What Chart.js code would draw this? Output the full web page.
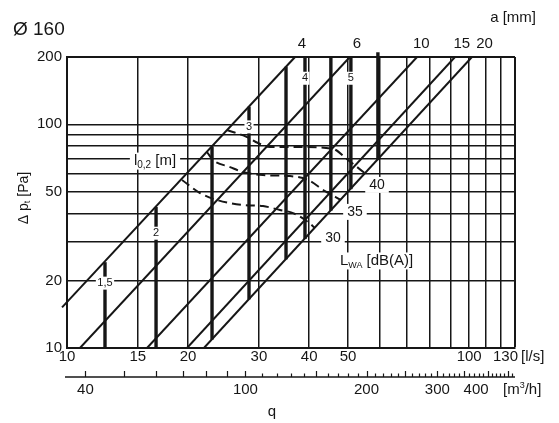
<!DOCTYPE html>
<html><head><meta charset="utf-8">
<script src="https://cdn.jsdelivr.net/npm/chart.js@4.4.1/dist/chart.umd.min.js"></script>
<style>html,body{margin:0;padding:0;background:#fff;overflow:hidden}canvas{display:block}</style>
</head><body>
<div style="width:559px;height:423px"><canvas id="c" width="559" height="423"></canvas></div>
<script>
// ---- axes ----
const xGridLs = [10,15,20,30,40,50,60,70,80,90,100,110,120,130];
const xLabelLs = [10,15,20,30,40,50,100];
const yGridPa = [10,20,30,40,50,60,70,80,90,100,200];
const yLabelPa = [10,20,50,100,200];
const m3hTicks = [40,50,60,70,80,90,100,110,120,130,140,150,160,170,180,190,200,210,220,230,240,250,260,270,280,290,300,310,320,330,340,350,360,370,380,390,400,410,420,430,440,450,460];
const m3hLabels = [40,100,200,300,400];

// ---- slot opening lines a [mm]: end points (q l/s, dp Pa) ----
const slotNames = ['4','6','10','15','20'];
const slotQ = [[9.72,36.9],[10.77,50.5],[15.81,74.2],[19.88,92.2],[21.9,101.6]];
const slotP = [[15.2,200],[10,200],[10,200],[10,200],[10,200]];

// ---- throw l0,2 [m] vertical lines ----
const throwNames = ['1,5','2','','3','','4','','5',''];
const throwQ = [12.43,16.65,22.94,28.35,35.04,39.06,45.3,50.8,59.3];
const throwPlow = [10,10,10.9,16.5,24.9,30.7,41.1,51.3,69.2];
const throwPhigh = [24.2,42.7,79.5,119.9,180.9,200,200,200,210];

// ---- sound power LWA [dB(A)] curves ----
const soundNames = ['40','35','30'];
const sound40Q = [24.99,28.03,29.85,31.96,37.96,45.85,49.96,55.4];
const sound40P = [94.3,87.7,82.5,79.2,79.2,77.6,69.3,59.9];
const sound35Q = [22.29,23.07,25.43,27.39,30.72,35.85,39.73,43.8,48.0];
const sound35P = [75.2,69.3,64.4,61.2,59.3,58.7,56.4,50.3,45.9];
const sound30Q = [19.32,21.41,23.6,27.39,30.72,33.85,36.48,39.73,41.36];
const sound30P = [56.4,49.3,45.9,43.6,43.1,41.4,40.1,36.6,34.4];

const FONT = '"Liberation Sans", Arial, Helvetica, sans-serif';
const INK = '#161616';
const pts = (qs, ps) => qs.map((q, i) => ({x: q, y: ps[i]}));

const datasets = [];
slotQ.forEach((qs, i) => datasets.push({
  label: 'a ' + slotNames[i], data: pts(qs, slotP[i]), showLine: true,
  borderColor: INK, borderWidth: 2, clip: i === 0 ? false : undefined
}));
throwQ.forEach((q, i) => datasets.push({
  label: 'l ' + (throwNames[i] || i), data: [{x: q, y: throwPlow[i]}, {x: q, y: throwPhigh[i]}], showLine: true,
  borderColor: INK, borderWidth: 3.4, borderCapStyle: 'butt', clip: i === throwQ.length - 1 ? false : undefined
}));
[[sound40Q, sound40P], [sound35Q, sound35P], [sound30Q, sound30P]].forEach((s, i) => datasets.push({
  label: 'L ' + soundNames[i], data: pts(s[0], s[1]), showLine: true,
  borderColor: INK, borderWidth: 2, borderDash: [9, 5], cubicInterpolationMode: 'monotone'
}));

function rich(ctx, parts, x, y, align, bg) {
  let w = 0;
  parts.forEach(p => { ctx.font = p[1] + 'px ' + FONT; p.w = ctx.measureText(p[0]).width; w += p.w; });
  let sx = align === 'center' ? x - w / 2 : (align === 'right' ? x - w : x);
  const h = Math.max(...parts.map(p => p[1]));
  if (bg) { ctx.fillStyle = '#fff'; ctx.fillRect(sx - bg, y - h / 2 - 1, w + 2 * bg, h + 2); }
  ctx.fillStyle = INK; ctx.textBaseline = 'middle'; ctx.textAlign = 'left';
  parts.forEach(p => { ctx.font = p[1] + 'px ' + FONT; ctx.fillText(p[0], sx, y + (p[2] || 0)); sx += p.w; });
}

const annotate = {
  id: 'annotate',
  afterDatasetsDraw(chart) {
    const {ctx, scales: {x, y}} = chart;
    const X = v => x.getPixelForValue(v), Y = v => y.getPixelForValue(v);
    ctx.save();
    const throwLabelP = [19.5, 32.6, 0, 97.4, 0, 160.7, 0, 160.7, 0];
    throwNames.forEach((n, i) => { if (n) rich(ctx, [[n, 11, 0]], X(throwQ[i]), Y(throwLabelP[i]), 'center', 1.5); });
    rich(ctx, [['l', 15, 0], ['0,2', 10, 4], [' [m]', 15, 0]], X(16.55), Y(68.5), 'center', 4);
    const sLabQ = [59.0, 52.0, 45.85], sLabP = [53.6, 40.6, 31.0];
    soundNames.forEach((n, i) => rich(ctx, [[n, 14, 0]], X(sLabQ[i]), Y(sLabP[i]), 'center', 4));
    rich(ctx, [['L', 15, 0], ['WA', 9, 5], [' [dB(A)]', 15, 0]], X(47.7), Y(24.5), 'left', 2);
    ctx.restore();
  },
  afterDraw(chart) {
    const {ctx, scales: {x, y}} = chart;
    const X = v => x.getPixelForValue(v);
    ctx.save();
    rich(ctx, [['Ø 160', 19, 0]], 13, 30, 'left');
    rich(ctx, [['a [mm]', 15, 0]], 536, 18, 'right');
    const slotLabelQ = [38.4, 52.6, 76.0, 95.9, 109.2];
    slotNames.forEach((n, i) => rich(ctx, [[n, 15, 0]], X(slotLabelQ[i]), 44, 'center'));
    ctx.save(); ctx.translate(24, 198); ctx.rotate(-Math.PI / 2);
    rich(ctx, [['Δ p', 14, 0], ['t', 9, 4], [' [Pa]', 14, 0]], 0, 0, 'center');
    ctx.restore();
    rich(ctx, [['130', 15, 0]], X(130) + 3, 357, 'right');
    rich(ctx, [['[l/s]', 15, 0]], 521, 357, 'left');
    const ay = 377;
    ctx.strokeStyle = INK; ctx.lineWidth = 1.5;
    ctx.beginPath(); ctx.moveTo(65, ay); ctx.lineTo(X(130), ay); ctx.stroke();
    ctx.lineWidth = 1.2;
    m3hTicks.forEach(v => {
      const px = Math.round(X(v / 3.6)) + 0.5;
      const len = (v <= 100 || v % 50 === 0) ? 6 : 3.5;
      ctx.beginPath(); ctx.moveTo(px, ay); ctx.lineTo(px, ay - len); ctx.stroke();
    });
    m3hLabels.forEach((v, i) => rich(ctx, [[String(v), 15, 0]], X(v / 3.6) + (i === m3hLabels.length - 1 ? 1 : 0), 390, i === m3hLabels.length - 1 ? 'right' : 'center'));
    rich(ctx, [['[m', 15, 0], ['3', 9, -4], ['/h]', 15, 0]], 503, 390, 'left');
    rich(ctx, [['q', 15, 0]], 272, 412, 'center');
    ctx.restore();
  }
};

new Chart(document.getElementById('c'), {
  type: 'scatter',
  data: {datasets},
  plugins: [annotate],
  options: {
    responsive: false, animation: false, devicePixelRatio: 1,
    layout: {padding: {left: 0, right: 44, top: 57, bottom: 0}},
    plugins: {legend: {display: false}, tooltip: {enabled: false}},
    elements: {point: {radius: 0, hoverRadius: 0}, line: {fill: false, tension: 0}},
    scales: {
      x: {
        type: 'logarithmic', min: 10, max: 130, bounds: 'data',
        afterFit(s) { s.height = 75; },
        afterBuildTicks(s) { s.ticks = xGridLs.map(v => ({value: v})); },
        ticks: {autoSkip: false, maxRotation: 0, minRotation: 0, padding: 0, color: INK,
          font: {family: FONT, size: 15}, callback: v => xLabelLs.includes(v) ? String(v) : ''},
        grid: {drawTicks: false, color: INK, lineWidth: c => (c.tick && c.tick.value === 130) ? 2 : 1.5},
        border: {display: true, color: INK, width: 2}
      },
      y: {
        type: 'logarithmic', min: 10, max: 200, bounds: 'data',
        afterFit(s) { s.width = 67; },
        afterBuildTicks(s) { s.ticks = yGridPa.map(v => ({value: v})); },
        ticks: {autoSkip: false, padding: 5, color: INK,
          font: {family: FONT, size: 15}, callback: v => yLabelPa.includes(v) ? String(v) : ''},
        grid: {drawTicks: false, color: INK, lineWidth: c => (c.tick && c.tick.value === 200) ? 2 : 1.5},
        border: {display: true, color: INK, width: 2}
      }
    }
  }
});
</script>
</body></html>
